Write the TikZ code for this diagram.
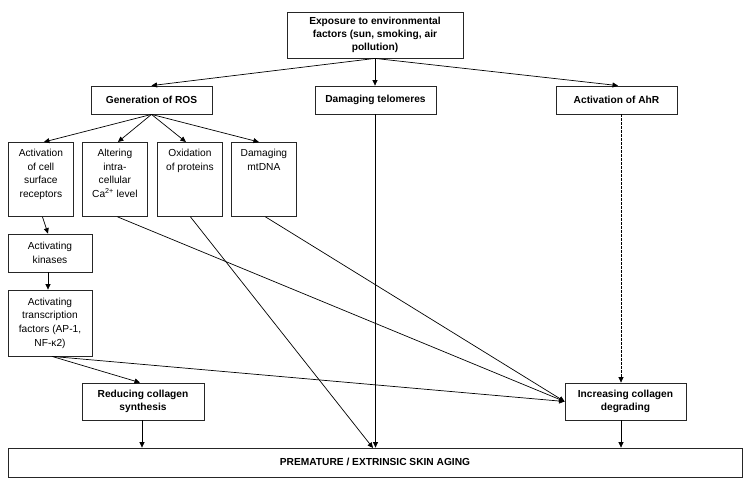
\documentclass[tikz,border=0pt]{standalone}
\usepackage{fontspec}
\setmainfont{Liberation Sans}
\usetikzlibrary{arrows.meta,calc}
\tikzset{
  box/.style={draw=black!85, line width=0.8pt, inner sep=0pt, align=center},
  bbox/.style={box, font=\fontsize{10.2}{13.2}\selectfont\bfseries},
  conn/.style={line width=0.7pt, -{Triangle[length=5.5pt,width=5pt]}},
  dconn/.style={conn, dashed, dash pattern=on 2.5pt off 1.5pt}
}
\newcommand{\topbox}[3]{\parbox[c][#1pt][t]{#2pt}{\centering\rule{0pt}{14pt}#3}}
\begin{document}
\begin{tikzpicture}[x=1pt,y=-1pt, font=\fontsize{10.2}{13.6}\selectfont]
\useasboundingbox (0,0) rectangle (750,490);
% top row
\node[bbox, minimum width=176, minimum height=46] (top) at (375,35) {Exposure to environmental\\factors (sun, smoking, air\\pollution)};
\node[bbox, minimum width=121, minimum height=28] (ros) at (151.5,100) {Generation of ROS};
\node[bbox, minimum width=121, minimum height=28] (tel) at (375.5,100) {Damaging telomeres};
\node[bbox, minimum width=121, minimum height=28] (ahr) at (616.5,100) {Activation of AhR};
% second row
\node[box, anchor=north west] (cell) at (8,142) {\topbox{74}{65}{Activation\\of cell\\surface\\receptors}};
\node[box, anchor=north west] (alt) at (82,142) {\topbox{74}{65}{Altering\\intra-\\cellular\\Ca\textsuperscript{2+} level}};
\node[box, anchor=north west] (oxi) at (157,142) {\topbox{74}{65}{Oxidation\\of proteins}};
\node[box, anchor=north west] (mtd) at (231,142) {\topbox{74}{65}{Damaging\\mtDNA}};
% left chain
\node[box, minimum width=84, minimum height=38] (kin) at (50,253) {Activating\\kinases};
\node[box, minimum width=84, minimum height=66] (tf) at (50,323) {Activating\\transcription\\factors (AP-1,\\NF-κ2)};
% collagen
\node[bbox, minimum width=122, minimum height=37] (red) at (143,401.5) {Reducing collagen\\synthesis};
\node[bbox, minimum width=121, minimum height=37] (inc) at (625.5,401.5) {Increasing collagen\\degrading};
% bottom
\node[bbox, minimum width=734, minimum height=29] (bot) at (375,462.5) {\raisebox{2pt}{PREMATURE / EXTRINSIC SKIN AGING}};
\coordinate (oxend) at (373,448);
% connectors
\draw[conn] (top.south) -- (ros.north);
\draw[conn] (top.south) -- (top.south |- tel.north);
\draw[conn] ($(top.south)+(0,0)$) -- ($(ahr.north)+(1.5,0)$);
\draw[conn] (ros.south) -- ($(cell.north)+(3,0)$);
\draw[conn] (ros.south) -- ($(alt.north)+(3,0)$);
\draw[conn] (ros.south) -- ($(oxi.north)+(-4,0)$);
\draw[conn] (ros.south) -- ($(mtd.north)+(-5,0)$);
\draw[conn] ($(cell.south)+(1.5,0)$) -- ($(kin.north)+(-2,0)$);
\draw[conn] ($(kin.south)+(-2,0)$) -- ($(tf.north)+(-2,0)$);
\draw[conn] ($(tf.south)+(2,0)$) -- ($(red.north)+(-3,0)$);
\draw[conn] ($(tf.south)+(2,0)$) -- (inc.west);
\draw[conn] ($(alt.south)+(2.5,0)$) -- (inc.west);
\draw[conn] ($(mtd.south)+(1.5,0)$) -- (inc.west);
\draw[conn] ($(oxi.south)+(0.5,0)$) -- (oxend);
\draw[conn] (tel.south) -- (tel.south |- bot.north);
\draw[dconn] ($(ahr.south)+(4.5,0)$) -- ($(inc.north)+(-4.5,0)$);
\draw[conn] ($(inc.south)+(-4.5,0)$) -- ($(inc.south |- bot.north)+(-4.5,0)$);
\draw[conn] ($(red.south)+(-1,0)$) -- ($(red.south |- bot.north)+(-1,0)$);
\end{tikzpicture}
\end{document}
